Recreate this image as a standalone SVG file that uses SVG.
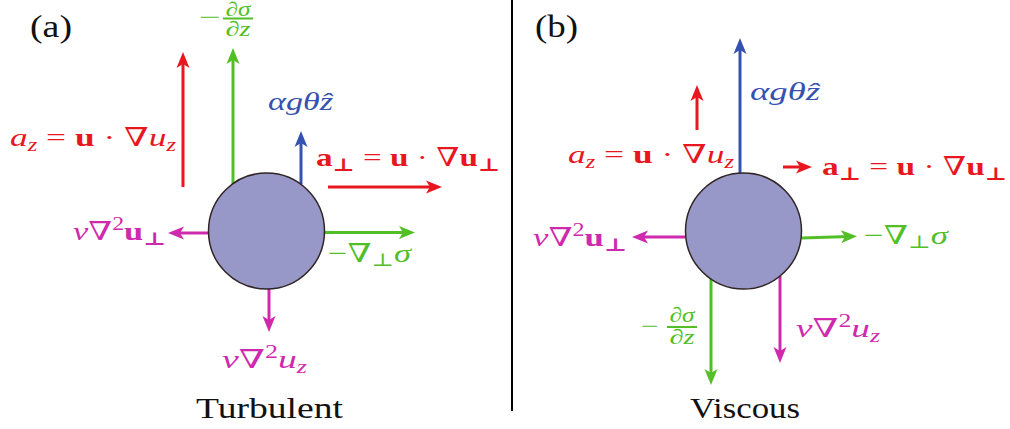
<svg xmlns="http://www.w3.org/2000/svg" width="1010" height="429" viewBox="0 0 1010 429">
<style>
.t{font-family:"Liberation Serif","DejaVu Serif",serif;}
.i{font-style:italic;}
.b{font-weight:bold;}
.ln{fill:none;stroke-width:3;}
.r{fill:#e8171f;} .g{fill:#52bf27;} .bl{fill:#3652b0;} .m{fill:#cf2aad;} .k{fill:#111;}
.sr{stroke:#e8171f;} .sg{stroke:#52bf27;} .sb{stroke:#3652b0;} .sm{stroke:#cf2aad;}
.ball{fill:#9898c8;stroke:#302424;stroke-width:1.5;}
</style>
<defs>
<marker id="ar" viewBox="0 -7 16 14" refX="8" refY="0" markerWidth="16" markerHeight="14" markerUnits="userSpaceOnUse" orient="auto"><path d="M16,0 L0,-6.5 L4,0 L0,6.5 Z" fill="#e8171f"/></marker>
<marker id="ag" viewBox="0 -7 16 14" refX="8" refY="0" markerWidth="16" markerHeight="14" markerUnits="userSpaceOnUse" orient="auto"><path d="M16,0 L0,-6.5 L4,0 L0,6.5 Z" fill="#52bf27"/></marker>
<marker id="ab" viewBox="0 -7 16 14" refX="8" refY="0" markerWidth="16" markerHeight="14" markerUnits="userSpaceOnUse" orient="auto"><path d="M16,0 L0,-6.5 L4,0 L0,6.5 Z" fill="#3652b0"/></marker>
<marker id="am" viewBox="0 -7 16 14" refX="8" refY="0" markerWidth="16" markerHeight="14" markerUnits="userSpaceOnUse" orient="auto"><path d="M16,0 L0,-6.5 L4,0 L0,6.5 Z" fill="#cf2aad"/></marker>
</defs>

<line x1="512" y1="0" x2="512" y2="411" stroke="#000" stroke-width="2"/>

<g id="connectors">
  <path class="ln sr" d="M183,187 V60" marker-end="url(#ar)"/>
  <path class="ln sg" d="M233,184 V56" marker-end="url(#ag)"/>
  <path class="ln sb" d="M301,184 V139" marker-end="url(#ab)"/>
  <path class="ln sr" d="M328,187 H434" marker-end="url(#ar)"/>
  <path class="ln sg" d="M325,232.5 H407" marker-end="url(#ag)"/>
  <path class="ln sm" d="M208,233 H176" marker-end="url(#am)"/>
  <path class="ln sm" d="M269,289 V324" marker-end="url(#am)"/>
  <path class="ln sb" d="M740,173 V46" marker-end="url(#ab)"/>
  <path class="ln sr" d="M697,130 V93" marker-end="url(#ar)"/>
  <path class="ln sr" d="M783,167 H804" marker-end="url(#ar)"/>
  <path class="ln sg" d="M802,238 L849,236.5" marker-end="url(#ag)"/>
  <path class="ln sm" d="M685,237 H640" marker-end="url(#am)"/>
  <path class="ln sg" d="M711,278 V377" marker-end="url(#ag)"/>
  <path class="ln sm" d="M780,276 V355" marker-end="url(#am)"/>
</g>

<g id="particle-a"><circle class="ball" cx="266.5" cy="231" r="58"/></g>
<g id="particle-b"><circle class="ball" cx="743.5" cy="231" r="58"/></g>

<g id="labels-a">
  <text id="label-a" class="t k" x="30" y="37" font-size="32" textLength="42" lengthAdjust="spacingAndGlyphs">(a)</text>
  <g id="dsdz-a" class="g">
    <text class="t" transform="translate(199,25) scale(1.6,1)" font-size="24">−</text>
    <rect x="223" y="17.5" width="30" height="2"/>
    <text class="t i" x="238" y="15.5" font-size="20" text-anchor="middle" textLength="25" lengthAdjust="spacingAndGlyphs">∂σ</text>
    <text class="t i" x="238" y="36" font-size="21" text-anchor="middle" textLength="25" lengthAdjust="spacingAndGlyphs">∂z</text>
  </g>
  <text id="buoy-a" class="t i bl" x="268" y="110" font-size="26" textLength="65" lengthAdjust="spacingAndGlyphs">αgθẑ</text>
  <text id="az-a" class="t r" x="10" y="146" font-size="26" textLength="166" lengthAdjust="spacingAndGlyphs"><tspan class="i">a</tspan><tspan class="i" font-size="18" dy="5">z</tspan><tspan dy="-5"> = </tspan><tspan class="b">u</tspan> · ∇<tspan class="i">u</tspan><tspan class="i" font-size="18" dy="5">z</tspan></text>
  <text id="aperp-a" class="t r b" x="316" y="166" font-size="26" textLength="184" lengthAdjust="spacingAndGlyphs">a<tspan font-size="18" dy="5">⊥</tspan><tspan dy="-5" font-weight="normal"> = </tspan>u<tspan font-weight="normal"> · ∇</tspan>u<tspan font-size="18" dy="5">⊥</tspan></text>
  <text id="gradsig-a" class="t g" x="328" y="262" font-size="26" textLength="83" lengthAdjust="spacingAndGlyphs">−∇<tspan font-size="18" dy="4">⊥</tspan><tspan class="i" dy="-4">σ</tspan></text>
  <text id="visc-perp-a" class="t m" x="73" y="240" font-size="26" textLength="93" lengthAdjust="spacingAndGlyphs"><tspan class="i">ν</tspan>∇<tspan font-size="18" dy="-10">2</tspan><tspan class="b" dy="10">u</tspan><tspan class="b" font-size="18" dy="5">⊥</tspan></text>
  <text id="visc-z-a" class="t m" x="222" y="368" font-size="26" textLength="85" lengthAdjust="spacingAndGlyphs"><tspan class="i">ν</tspan>∇<tspan font-size="18" dy="-10">2</tspan><tspan class="i" dy="10">u</tspan><tspan class="i" font-size="18" dy="5">z</tspan></text>
  <text id="title-a" class="t k" x="196" y="418" font-size="30" textLength="147" lengthAdjust="spacingAndGlyphs">Turbulent</text>
</g>

<g id="labels-b">
  <text id="label-b" class="t k" x="535" y="37" font-size="32" textLength="43" lengthAdjust="spacingAndGlyphs">(b)</text>
  <text id="buoy-b" class="t i bl" x="750" y="100" font-size="26" textLength="70" lengthAdjust="spacingAndGlyphs">αgθẑ</text>
  <text id="az-b" class="t r" x="568" y="163" font-size="26" textLength="166" lengthAdjust="spacingAndGlyphs"><tspan class="i">a</tspan><tspan class="i" font-size="18" dy="5">z</tspan><tspan dy="-5"> = </tspan><tspan class="b">u</tspan> · ∇<tspan class="i">u</tspan><tspan class="i" font-size="18" dy="5">z</tspan></text>
  <text id="aperp-b" class="t r b" x="822" y="175" font-size="26" textLength="185" lengthAdjust="spacingAndGlyphs">a<tspan font-size="18" dy="5">⊥</tspan><tspan dy="-5" font-weight="normal"> = </tspan>u<tspan font-weight="normal"> · ∇</tspan>u<tspan font-size="18" dy="5">⊥</tspan></text>
  <text id="gradsig-b" class="t g" x="864" y="244" font-size="26" textLength="84" lengthAdjust="spacingAndGlyphs">−∇<tspan font-size="18" dy="4">⊥</tspan><tspan class="i" dy="-4">σ</tspan></text>
  <text id="visc-perp-b" class="t m" x="533" y="246" font-size="26" textLength="94" lengthAdjust="spacingAndGlyphs"><tspan class="i">ν</tspan>∇<tspan font-size="18" dy="-10">2</tspan><tspan class="b" dy="10">u</tspan><tspan class="b" font-size="18" dy="5">⊥</tspan></text>
  <g id="dsdz-b" class="g">
    <text class="t" transform="translate(641,334) scale(1.3,1)" font-size="24">−</text>
    <rect x="667" y="326" width="30" height="2"/>
    <text class="t i" x="682" y="322" font-size="21" text-anchor="middle" textLength="25" lengthAdjust="spacingAndGlyphs">∂σ</text>
    <text class="t i" x="682" y="344" font-size="21" text-anchor="middle" textLength="25" lengthAdjust="spacingAndGlyphs">∂z</text>
  </g>
  <text id="visc-z-b" class="t m" x="796" y="337" font-size="26" textLength="84" lengthAdjust="spacingAndGlyphs"><tspan class="i">ν</tspan>∇<tspan font-size="18" dy="-10">2</tspan><tspan class="i" dy="10">u</tspan><tspan class="i" font-size="18" dy="5">z</tspan></text>
  <text id="title-b" class="t k" x="690" y="418" font-size="30" textLength="110" lengthAdjust="spacingAndGlyphs">Viscous</text>
</g>
</svg>
